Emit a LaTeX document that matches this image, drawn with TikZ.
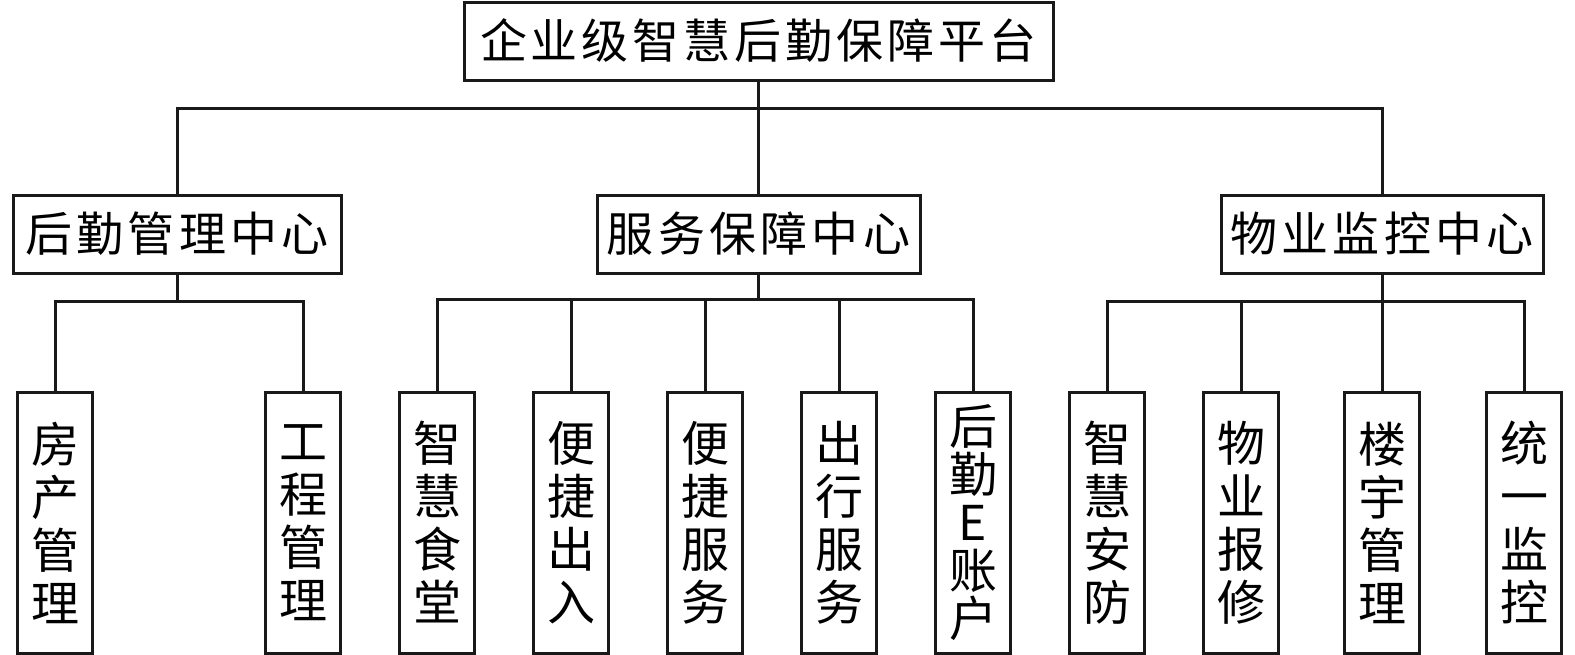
\documentclass[tikz,border=0pt]{standalone}
\usepackage{fontspec}
\newfontfamily\cjk{Noto Sans CJK SC}
\newfontfamily\cjkls{Noto Sans CJK SC}[LetterSpace=9]
\newfontfamily\cjkt{Noto Sans CJK SC}[LetterSpace=8.5]
\begin{document}
\begin{tikzpicture}[x=1pt,y=-1pt,line width=3pt,
  box/.style={draw=black!90,inner sep=0pt,align=center},
  topbox/.style={box,minimum width=589pt,minimum height=78pt,font=\cjkt\fontsize{47}{51}\selectfont},
  midbox/.style={box,minimum height=78pt,font=\cjkls\fontsize{47}{51}\selectfont},
  leafbox/.style={box,minimum width=75pt,minimum height=261pt,font=\cjk\fontsize{48}{53}\selectfont},
  conn/.style={draw=black!90,line width=3pt}]
\useasboundingbox (0,0) rectangle (1575,654);
\node[topbox] (top) at (758.5,41) {企业级智慧后勤保障平台};
\node[midbox,minimum width=328pt] (a) at (177,234) {后勤管理中心};
\node[midbox,minimum width=323pt] (b) at (758.5,234) {服务保障中心};
\node[midbox,minimum width=322pt] (c) at (1382,234) {物业监控中心};
\node[leafbox] (l1) at (55,522.5) {房\\产\\管\\理};
\node[leafbox] (l2) at (303,522.5) {工\\程\\管\\理};
\node[leafbox] (m1) at (437,522.5) {智\\慧\\食\\堂};
\node[leafbox] (m2) at (571,522.5) {便\\捷\\出\\入};
\node[leafbox] (m3) at (705,522.5) {便\\捷\\服\\务};
\node[leafbox] (m4) at (839,522.5) {出\\行\\服\\务};
\node[leafbox,font=\cjk\fontsize{48}{48}\selectfont] (m5) at (973,522.5) {后\\勤\\E\\账\\户};
\node[leafbox] (r1) at (1107,522.5) {智\\慧\\安\\防};
\node[leafbox] (r2) at (1241,522.5) {物\\业\\报\\修};
\node[leafbox] (r3) at (1382,522.5) {楼\\宇\\管\\理};
\node[leafbox] (r4) at (1524,522.5) {统\\一\\监\\控};
\coordinate (j0) at (758.5,108);
\coordinate (ja) at (177,301);
\coordinate (jb) at (758.5,299);
\coordinate (jc) at (1382,301);
\draw[conn] (top.south) -- (j0) -- (b.north);
\draw[conn] (a.north) |- (j0) -| (c.north);
\draw[conn] (a.south) -- (ja);
\draw[conn] (l1.north) |- (ja) -| (l2.north);
\draw[conn] (b.south) -- (jb);
\draw[conn] (m1.north) |- (jb) -| (m5.north);
\draw[conn] (m2.north) -- (m2.north |- jb);
\draw[conn] (m3.north) -- (m3.north |- jb);
\draw[conn] (m4.north) -- (m4.north |- jb);
\draw[conn] (c.south) -- (jc);
\draw[conn] (r1.north) |- (jc) -| (r4.north);
\draw[conn] (r2.north) -- (r2.north |- jc);
\draw[conn] (r3.north) -- (r3.north |- jc);
\end{tikzpicture}
\end{document}
